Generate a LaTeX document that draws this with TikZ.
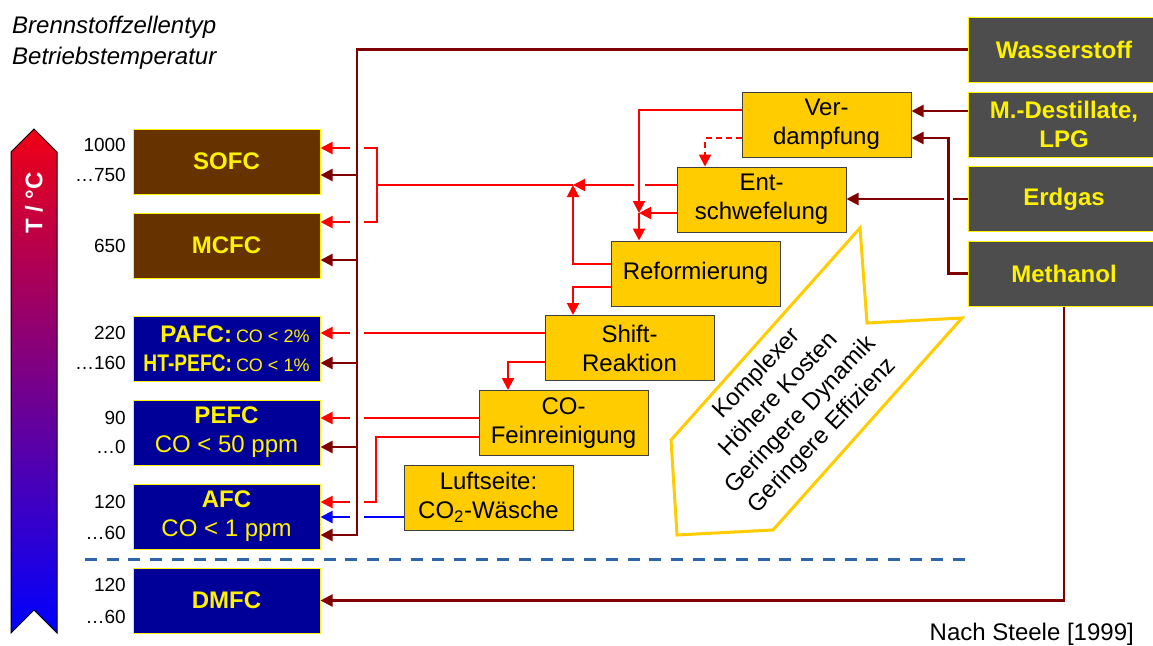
\documentclass[tikz,border=0pt]{standalone}
\usepackage{fontspec}
\setmainfont{Liberation Sans}
\usepackage{graphicx}
\usepackage{tikz}
\usetikzlibrary{calc,shapes,arrows.meta}
\definecolor{hotbrown}{RGB}{102,51,0}
\definecolor{coldnavy}{RGB}{0,0,153}
\definecolor{fuelgray}{RGB}{77,77,77}
\definecolor{procyellow}{RGB}{255,204,0}
\definecolor{feedred}{RGB}{128,0,0}
\definecolor{lineblue}{RGB}{46,100,170}
\definecolor{barred}{RGB}{240,0,20}
\definecolor{barpurple}{RGB}{125,0,130}
\definecolor{barblue}{RGB}{0,0,255}
\newcommand\boxsize{\fontsize{24}{29}\selectfont}
\newcommand\remarksize{\fontsize{18}{22}\selectfont}
\newcommand\tempsize{\fontsize{19}{23}\selectfont}
\newcommand\headsize{\fontsize{24}{31}\selectfont}
\newcommand\trendsize{\fontsize{24}{30}\selectfont}
\tikzstyle{cellbox}=[rectangle,draw=yellow,line width=1pt,text=yellow,
                     minimum width=187pt,minimum height=65pt,inner sep=0pt,
                     font=\boxsize]
\tikzstyle{hotcell}=[cellbox,fill=hotbrown]
\tikzstyle{coldcell}=[cellbox,fill=coldnavy]
\tikzstyle{fuelbox}=[rectangle,draw=yellow,line width=1pt,fill=fuelgray,
                     text=yellow,minimum width=192pt,minimum height=65pt,
                     inner sep=0pt,font=\boxsize\bfseries,align=center]
\tikzstyle{procbox}=[rectangle,draw=black!75,line width=1pt,fill=procyellow,
                     minimum width=169pt,minimum height=65pt,inner sep=0pt,
                     font=\boxsize,align=center]
\tikzstyle{templabel}=[anchor=east,inner sep=0pt,font=\tempsize]
\tikzstyle{gasflow}=[draw=red,line width=2pt]
\tikzstyle{feedflow}=[draw=feedred,line width=2.2pt]
\tikzstyle{airflow}=[draw=blue,line width=2pt]
\tikzstyle{trendarrow}=[draw=procyellow,line width=3pt,fill=white,line join=miter]
\tikzstyle{separator}=[draw=lineblue,line width=3pt,dash pattern=on 12pt off 9.7pt]
\tikzset{bridge/.style={preaction={draw=white,line width=#1}}}

\begin{document}
\begin{tikzpicture}[x=1pt,y=-1pt,>={Triangle[length=12pt,width=12pt]}]
    \useasboundingbox (0,0) rectangle (1153,645);

    \node [anchor=north west,inner sep=0pt,align=left,font=\headsize\itshape] (header) at (12,15.5) {
        Brennstoffzellentyp\\Betriebstemperatur
    };

    \shade [draw=black,line width=1pt,top color=barred,middle color=barpurple,bottom color=barblue]
        (11,633) -- (11,152) -- (34,129) -- (57,152) -- (57,633) -- (34,610) -- cycle;
    \node [rotate=90,text=white,font=\boxsize\bfseries] (taxis) at (34,203) {T / °C};

    \node [hotcell] (SOFC) at (226.5,161.5) {\textbf{SOFC}};
    \node [hotcell] (MCFC) at (226.5,245.5) {\textbf{MCFC}};
    \node [coldcell,align=right] (PAFC) at (226.5,348.5) {
        \textbf{PAFC:}\,{\remarksize CO < 2\%}\\
        \scalebox{0.8}[1]{\textbf{HT-PEFC:}}\,{\remarksize CO < 1\%}
    };
    \node [coldcell,align=center] (PEFC) at (226.5,432.5) {\textbf{PEFC}\\CO < 50 ppm};
    \node [coldcell,align=center] (AFC) at (226.5,516.5) {\textbf{AFC}\\CO < 1 ppm};
    \node [coldcell] (DMFC) at (226.5,600.5) {\textbf{DMFC}};

    \node [templabel] (SOFC max) at (126,145) {1000};
    \node [templabel] (SOFC min) at (126,175) {…750};
    \node [templabel] (MCFC max) at (126,246) {650};
    \node [templabel] (PAFC max) at (126,333) {220};
    \node [templabel] (PAFC min) at (126,363) {…160};
    \node [templabel] (PEFC max) at (126,418) {90};
    \node [templabel] (PEFC min) at (126,447) {…0};
    \node [templabel] (AFC max) at (126,502) {120};
    \node [templabel] (AFC min) at (126,533) {…60};
    \node [templabel] (DMFC max) at (126,585) {120};
    \node [templabel] (DMFC min) at (126,617) {…60};

    \node [procbox] (Verdampfung) at (826.5,124.5) {Ver-\\dampfung};
    \node [procbox] (Entschwefelung) at (761.5,199.5) {Ent-\\schwefelung};
    \node [procbox] (Reformierung) at (695.5,273.5) {Reformierung};
    \node [procbox] (Shift) at (629.5,348) {Shift-\\Reaktion};
    \node [procbox] (Feinreinigung) at (563.5,423) {CO-\\Feinreinigung};
    \node [procbox] (Waesche) at (488.5,497.5) {Luftseite:\\CO\textsubscript{2}-Wäsche};

    \node [fuelbox] (Wasserstoff) at (1064,49.5) {Wasserstoff};
    \node [fuelbox] (Destillate) at (1064,124.5) {M.-Destillate,\\LPG};
    \node [fuelbox] (Erdgas) at (1064,199) {Erdgas};
    \node [fuelbox] (Methanol) at (1064,273.5) {Methanol};

    \draw [trendarrow] (860,228) -- (867,323) -- (962,318) -- (773,530) -- (677,535) -- (671,440) -- cycle;
    \node [rotate=46.5,align=center,font=\trendsize] (trend) at (790,405) {
        Komplexer\\Höhere Kosten\\Geringere Dynamik\\Geringere Effizienz
    };

    \draw [separator] (85,559) -- (967,559);
    \node [anchor=east,inner sep=0pt,font=\boxsize] (source) at (1134,634) {Nach Steele [1999]};

    \coordinate (bus top) at (357,49.5);
    \coordinate (bus foot) at (357,535);
    \coordinate (gas merge) at (573,185);
    \coordinate (gas split) at (377,185);
    \coordinate (steam merge) at (639,213);
    \coordinate (afc corner) at (376,437);

    \draw [gasflow,->] ([yshift=14.5pt]Entschwefelung.west) -- (gas merge);
    \draw [gasflow,->] ([yshift=9.5pt]Reformierung.west) -| (gas merge);
    \draw [gasflow] (gas merge) -- (gas split);
    \draw [gasflow,->] (gas split) |- ([yshift=13.5pt]SOFC.east);
    \draw [gasflow,->] (gas split) |- ([yshift=23.5pt]MCFC.east);
    \draw [gasflow,->] ([yshift=15pt]Shift.west) -- ([yshift=15.5pt]PAFC.east);
    \draw [gasflow,->] ([yshift=5pt]Feinreinigung.west) -- ([yshift=14.5pt]PEFC.east);
    \draw [gasflow,->] ([yshift=-14pt]Feinreinigung.west) -- (afc corner) |- ([yshift=14.5pt]AFC.east);
    \draw [airflow,->] ([yshift=-19.5pt]Waesche.west) -- ([yshift=-0.5pt]AFC.east);
    \draw [feedflow,->] (Erdgas.west) -- (Erdgas.west -| Entschwefelung.east);

    \draw [feedflow,bridge=14pt] (Wasserstoff.west) -- (bus top) -- (bus foot);
    \draw [feedflow,->,bridge=9pt] (Methanol.west) -| ([xshift=37pt,yshift=-13.5pt]Verdampfung.east)
        -- ([yshift=-13.5pt]Verdampfung.east);
    \draw [gasflow,->,bridge=11pt] ([yshift=14.5pt]Verdampfung.west) -| (steam merge);

    \draw [gasflow,->] ([yshift=-13.5pt]Entschwefelung.west) -- (steam merge);
    \draw [gasflow,->] (steam merge) -- (steam merge |- Reformierung.north);
    \draw [gasflow,->,dash pattern=on 6pt off 4pt] ([yshift=-13.5pt]Verdampfung.west) -| ([xshift=-56.5pt]Entschwefelung.north);
    \draw [gasflow,->] ([yshift=-13.5pt]Reformierung.west) -| ([xshift=-56.5pt]Shift.north);
    \draw [gasflow,->] ([yshift=-14pt]Shift.west) -| ([xshift=-55.5pt]Feinreinigung.north);

    \draw [feedflow,<-] ([yshift=-13.5pt]SOFC.east) -- ++(37,0);
    \draw [feedflow,<-] ([yshift=-14.5pt]MCFC.east) -- ++(37,0);
    \draw [feedflow,<-] ([yshift=-14.5pt]PAFC.east) -- ++(37,0);
    \draw [feedflow,<-] ([yshift=-14.5pt]PEFC.east) -- ++(37,0);
    \draw [feedflow,<-] ([yshift=-18.5pt]AFC.east) -- ++(37,0);
    \draw [feedflow,->] ([yshift=13.5pt]Destillate.west) -- ([yshift=13.5pt]Verdampfung.east);
    \draw [feedflow,->] (Methanol.south) |- (DMFC.east);
\end{tikzpicture}
\end{document}
